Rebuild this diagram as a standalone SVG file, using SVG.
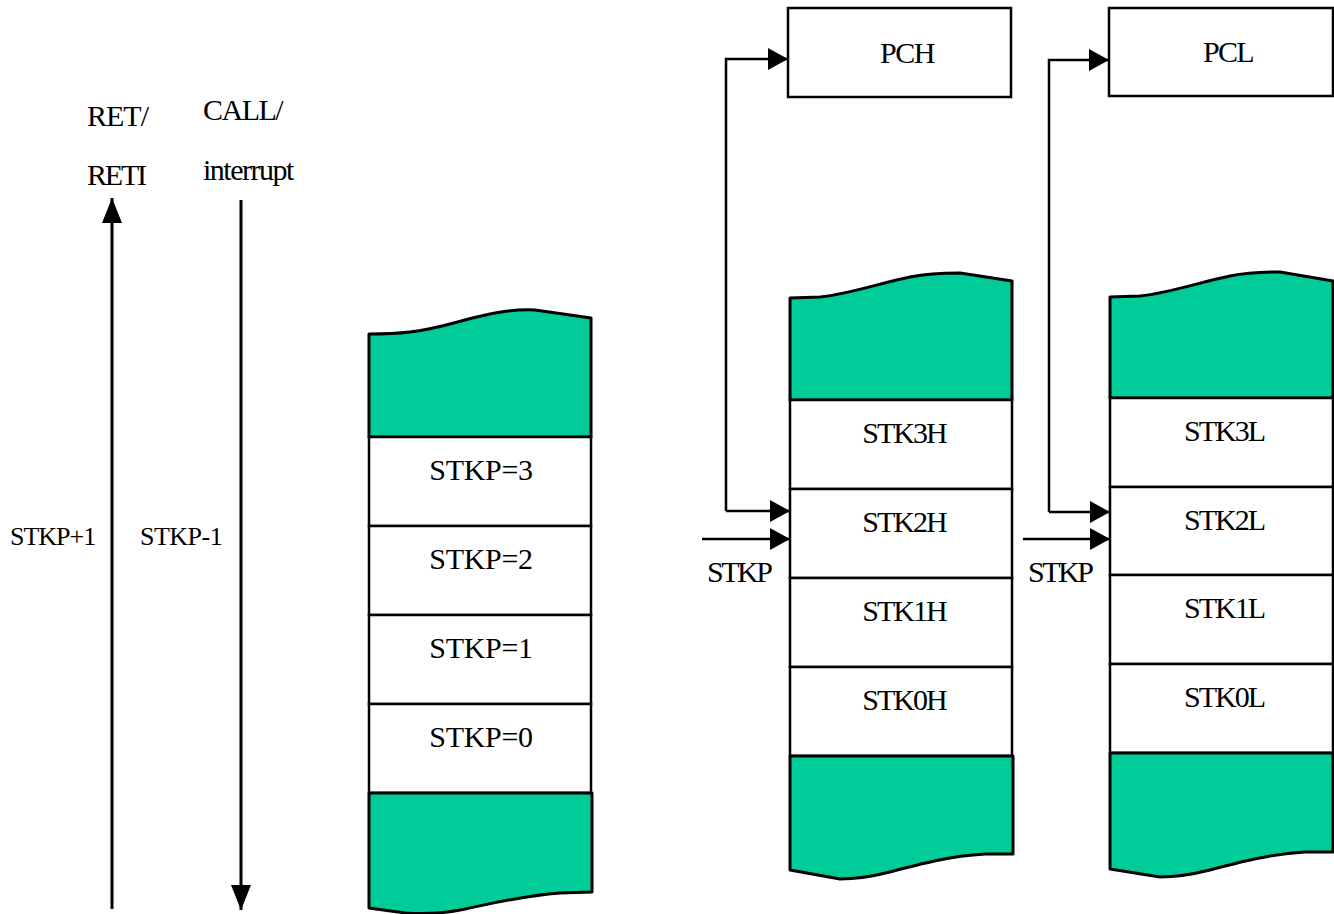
<svg xmlns="http://www.w3.org/2000/svg" width="1334" height="914" viewBox="0 0 1334 914">
<style>
.bg{fill:#ffffff}
.box{fill:#ffffff;stroke:#000;stroke-width:2.5}
.grn{fill:#00CC99;stroke:#000;stroke-width:3;stroke-linejoin:round}
.cell{fill:#ffffff;stroke:#000;stroke-width:2.5}
.ln{fill:none;stroke:#000;stroke-width:2.5}
.t{font-family:"Liberation Serif","Times New Roman",serif;font-size:30px;fill:#000}
.m{text-anchor:middle}
.s{font-size:26px}
.k{letter-spacing:-2px}
</style>
<defs>
<marker id="ah" markerUnits="userSpaceOnUse" markerWidth="20" markerHeight="22" refX="20" refY="11" orient="auto">
<path d="M0,0 L20,11 L0,22 Z" fill="#000"/>
</marker>
<marker id="av" markerUnits="userSpaceOnUse" markerWidth="25" markerHeight="20" refX="25" refY="10" orient="auto">
<path d="M0,0 L25,10 L0,20 Z" fill="#000"/>
</marker>
</defs>
<rect class="bg" x="0" y="0" width="1334" height="914"/>

<g id="left-labels">
<text class="t" x="87" y="126" letter-spacing="-1">RET/</text>
<text class="t" x="87" y="185" letter-spacing="-2.2">RETI</text>
<text class="t" x="203" y="120" letter-spacing="-1.5">CALL/</text>
<text class="t" x="203" y="180" letter-spacing="-1.5">interrupt</text>
<text class="t s" x="10" y="545" letter-spacing="-1">STKP+1</text>
<text class="t s" x="140" y="545" letter-spacing="-0.5">STKP-1</text>
</g>

<g id="stack-stkp">
<path class="grn" d="M369,437 L369,334 C400,334 420,332 450,324 C490,313 510,309 535,310 L591,318 L591,437 Z"/>
<rect class="cell" x="369" y="437" width="222" height="89"/>
<rect class="cell" x="369" y="526" width="222" height="89"/>
<rect class="cell" x="369" y="615" width="222" height="89"/>
<rect class="cell" x="369" y="704" width="222" height="89"/>
<path class="grn" d="M369,793 L592,793 L592,892 L560,893 C520,896 490,904 460,910 C440,914 420,914 405,913 L369,908 Z"/>
<text class="t m" x="481" y="480" letter-spacing="-0.3">STKP=3</text>
<text class="t m" x="481" y="569" letter-spacing="-0.3">STKP=2</text>
<text class="t m" x="481" y="658" letter-spacing="-0.3">STKP=1</text>
<text class="t m" x="481" y="747" letter-spacing="-0.3">STKP=0</text>
</g>

<g id="pch">
<rect class="box" x="788" y="8" width="223" height="89"/>
<text class="t m" x="907" y="63" letter-spacing="-1.5">PCH</text>
</g>

<g id="pcl">
<rect class="box" x="1109" y="8" width="224" height="88"/>
<text class="t m" x="1228" y="62" letter-spacing="-1.7">PCL</text>
</g>

<g id="stack-high">
<path class="grn" d="M790,400 L790,298 L820,297 C850,294 880,283 910,277 C925,274 940,273 960,273 L1012,281 L1012,400 Z"/>
<rect class="cell" x="790" y="400" width="222" height="89"/>
<rect class="cell" x="790" y="489" width="222" height="89"/>
<rect class="cell" x="790" y="578" width="222" height="89"/>
<rect class="cell" x="790" y="667" width="222" height="89"/>
<path class="grn" d="M790,756 L1013,756 L1013,854 L985,854 C950,856 920,864 890,872 C870,877 855,879 840,879 L790,870 Z"/>
<text class="t m k" x="904" y="443">STK3H</text>
<text class="t m k" x="904" y="532">STK2H</text>
<text class="t m k" x="904" y="621">STK1H</text>
<text class="t m k" x="904" y="710">STK0H</text>
</g>

<g id="stack-low">
<path class="grn" d="M1110,398 L1110,297 L1140,296 C1170,293 1200,282 1230,276 C1245,273 1260,272 1280,272 L1333,281 L1333,398 Z"/>
<rect class="cell" x="1110" y="398" width="223" height="89"/>
<rect class="cell" x="1110" y="487" width="223" height="88"/>
<rect class="cell" x="1110" y="575" width="223" height="89"/>
<rect class="cell" x="1110" y="664" width="223" height="89"/>
<path class="grn" d="M1110,753 L1333,753 L1333,852 L1305,852 C1270,854 1240,862 1210,870 C1190,875 1175,877 1160,877 L1110,869 Z"/>
<text class="t m k" x="1224" y="441">STK3L</text>
<text class="t m k" x="1224" y="530">STK2L</text>
<text class="t m k" x="1224" y="618">STK1L</text>
<text class="t m k" x="1224" y="707">STK0L</text>
</g>

<g id="connectors">
<line class="ln" x1="112" y1="909" x2="112" y2="198" style="stroke-width:3" marker-end="url(#av)"/>
<line class="ln" x1="241" y1="200" x2="241" y2="910" style="stroke-width:3" marker-end="url(#av)"/>
<path class="ln" d="M726,511 L726,59 L788,59" marker-end="url(#ah)"/>
<line class="ln" x1="726" y1="511" x2="790" y2="511" marker-end="url(#ah)"/>
<line class="ln" x1="702" y1="539" x2="790" y2="539" marker-end="url(#ah)"/>
<path class="ln" d="M1049,512 L1049,60 L1109,60" marker-end="url(#ah)"/>
<line class="ln" x1="1049" y1="512" x2="1110" y2="512" marker-end="url(#ah)"/>
<line class="ln" x1="1023" y1="539" x2="1110" y2="539" marker-end="url(#ah)"/>
</g>

<g id="stkp-labels">
<text class="t" x="707" y="582" letter-spacing="-2.5">STKP</text>
<text class="t" x="1028" y="582" letter-spacing="-2.5">STKP</text>
</g>
</svg>
